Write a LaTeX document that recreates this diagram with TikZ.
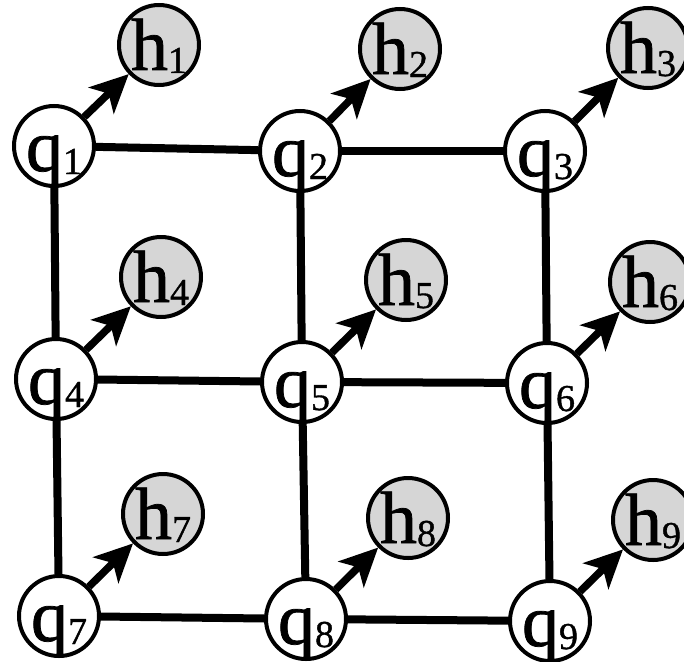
\documentclass[tikz,border=0pt]{standalone}
\usepackage{fontspec}
\setmainfont{Liberation Serif}
\newfontfamily\lblfont[FakeBold=1]{Liberation Serif}
\usetikzlibrary{arrows.meta}
\definecolor{hgray}{RGB}{214,214,214}
\newcommand{\lbl}[2]{\raisebox{-25pt}[0pt][0pt]{\lblfont\fontsize{74}{74}\selectfont #1\raisebox{-3pt}{\fontsize{38}{38}\selectfont #2}}}
\tikzset{
  qnode/.style={circle,draw=black,line width=4pt,fill=white,minimum size=80pt,inner sep=0pt},
  hnode/.style={circle,draw=black,line width=4pt,fill=hgray,minimum size=80pt,inner sep=0pt},
  gridline/.style={draw=black,line width=8pt},
  qarrow/.style={draw=black,line width=7.5pt,-{Stealth[length=38pt,width=36pt,inset=10pt]}}
}
\begin{document}
\begin{tikzpicture}[x=1pt,y=-1pt]
\useasboundingbox (0,0) rectangle (684,661);
\node[qnode] (q1) at (54,146) {\lbl{q}{1}};
\node[qnode] (q2) at (300,151) {\lbl{q}{2}};
\node[qnode] (q3) at (545,151) {\lbl{q}{3}};
\node[qnode] (q4) at (56,379) {\lbl{q}{4}};
\node[qnode] (q5) at (302,382) {\lbl{q}{5}};
\node[qnode] (q6) at (547,383) {\lbl{q}{6}};
\node[qnode] (q7) at (59,616) {\lbl{q}{7}};
\node[qnode] (q8) at (306,619) {\lbl{q}{8}};
\node[qnode] (q9) at (550,621) {\lbl{q}{9}};
\node[hnode] (h1) at (159,45) {\lbl{h}{1}};
\node[hnode] (h2) at (400,49) {\lbl{h}{2}};
\node[hnode] (h3) at (648,48) {\lbl{h}{3}};
\node[hnode] (h4) at (161,277) {\lbl{h}{4}};
\node[hnode] (h5) at (406,280) {\lbl{h}{5}};
\node[hnode] (h6) at (650,282) {\lbl{h}{6}};
\node[hnode] (h7) at (163,514) {\lbl{h}{7}};
\node[hnode] (h8) at (408,518) {\lbl{h}{8}};
\node[hnode] (h9) at (653,520) {\lbl{h}{9}};
\path[gridline] (q1) -- (q2);
\path[gridline] (q2) -- (q3);
\path[gridline] (q4) -- (q5);
\path[gridline] (q5) -- (q6);
\path[gridline] (q7) -- (q8);
\path[gridline] (q8) -- (q9);
\path[gridline] (q1) -- (q4);
\path[gridline] (q4) -- (q7);
\path[gridline] (q2) -- (q5);
\path[gridline] (q5) -- (q8);
\path[gridline] (q3) -- (q6);
\path[gridline] (q6) -- (q9);
\path[qarrow] (q1) -- (h1);
\path[qarrow] (q2) -- (h2);
\path[qarrow] (q3) -- (h3);
\path[qarrow] (q4) -- (h4);
\path[qarrow] (q5) -- (h5);
\path[qarrow] (q6) -- (h6);
\path[qarrow] (q7) -- (h7);
\path[qarrow] (q8) -- (h8);
\path[qarrow] (q9) -- (h9);
\end{tikzpicture}
\end{document}
